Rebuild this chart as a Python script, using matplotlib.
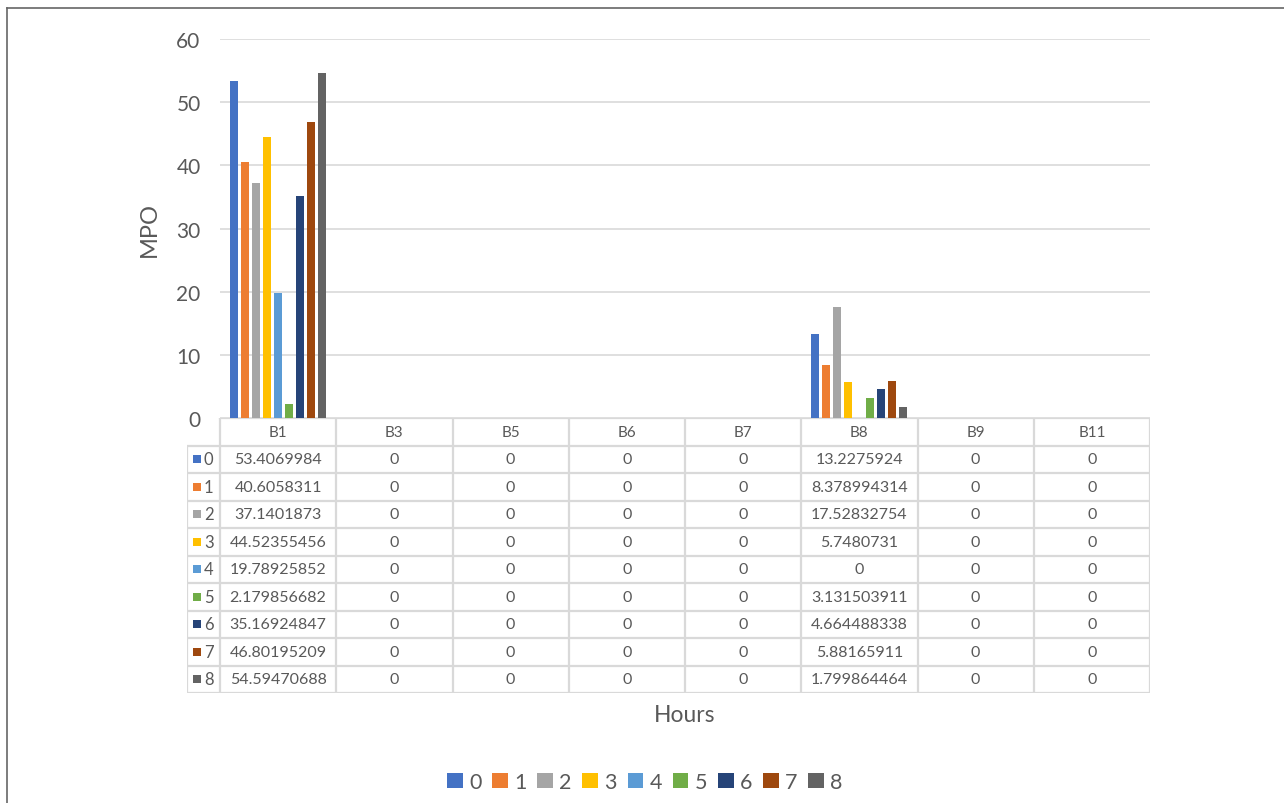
import matplotlib.pyplot as plt
from matplotlib.lines import Line2D
import numpy as np

plt.rcParams['font.family'] = ['Lato', 'DejaVu Sans']

# data
categories = ['B1', 'B3', 'B5', 'B6', 'B7', 'B8', 'B9', 'B11']
series_names = ['0', '1', '2', '3', '4', '5', '6', '7', '8']
s0 = [53.4069984, 0, 0, 0, 0, 13.2275924, 0, 0]
s1 = [40.6058311, 0, 0, 0, 0, 8.378994314, 0, 0]
s2 = [37.1401873, 0, 0, 0, 0, 17.52832754, 0, 0]
s3 = [44.52355456, 0, 0, 0, 0, 5.7480731, 0, 0]
s4 = [19.78925852, 0, 0, 0, 0, 0, 0, 0]
s5 = [2.179856682, 0, 0, 0, 0, 3.131503911, 0, 0]
s6 = [35.16924847, 0, 0, 0, 0, 4.664488338, 0, 0]
s7 = [46.80195209, 0, 0, 0, 0, 5.88165911, 0, 0]
s8 = [54.59470688, 0, 0, 0, 0, 1.799864464, 0, 0]
series = [s0, s1, s2, s3, s4, s5, s6, s7, s8]
colors = ['#4472C4', '#ED7D31', '#A5A5A5', '#FFC000', '#5B9BD5',
          '#70AD47', '#264478', '#9E480E', '#636363']
yticks = [0, 10, 20, 30, 40, 50, 60]

W, H = 1284, 804
txt = '#595959'
grid = '#D9D9D9'

fig = plt.figure(figsize=(W / 100, H / 100), dpi=100)

def fr(x0, y0, x1, y1):
    # pixel box -> figure fraction rect
    return [x0 / W, 1 - y1 / H, (x1 - x0) / W, (y1 - y0) / H]

# chart border (only top/left visible in the crop)
fig.add_artist(Line2D([7 / W, 7 / W], [1 - 9 / H, 0], color='#666666', lw=1.2))
fig.add_artist(Line2D([7 / W, 1], [1 - 9 / H, 1 - 9 / H], color='#666666', lw=1.2))

# bar plot area
ax = fig.add_axes(fr(220, 40, 1150, 419))
n = len(series)
pitch = 0.0946
bw = 0.069
x = np.arange(len(categories))
bars = []
for i, (vals, c) in enumerate(zip(series, colors)):
    off = (i - (n - 1) / 2) * pitch
    b = ax.bar(x + off, vals, width=bw, color=c, label=series_names[i], zorder=3)
    bars.append(b)
ax.set_xlim(-0.5, len(categories) - 0.5)
ax.set_ylim(0, 60)
ax.set_yticks(yticks)
ax.set_xticks([])
ax.yaxis.grid(True, color=grid, lw=1.2)
ax.set_axisbelow(True)
for s in ax.spines.values():
    s.set_visible(False)
ax.tick_params(axis='y', length=0, pad=14, labelsize=15, labelcolor=txt)
ax.set_ylabel('MPO', fontsize=17, color=txt, labelpad=12)

# data table under the plot
key_w = 33 / 116.25
tax = fig.add_axes(fr(187, 419, 1150, 694))
ncat = len(categories)
tax.set_xlim(-0.5 - key_w, ncat - 0.5)
tax.set_ylim(10, 0)
tax.axis('off')
lw = 1.6
for k in range(ncat + 1):
    tax.plot([k - 0.5, k - 0.5], [0, 10], color=grid, lw=lw, solid_capstyle='butt')
tax.plot([-0.5 - key_w] * 2, [1, 10], color=grid, lw=lw, solid_capstyle='butt')
tax.plot([-0.5, ncat - 0.5], [0, 0], color=grid, lw=lw)
for r in range(1, 11):
    tax.plot([-0.5 - key_w, ncat - 0.5], [r, r], color=grid, lw=lw)
for j, cat in enumerate(categories):
    tax.text(j, 0.5, cat, ha='center', va='center', fontsize=11, color=txt)
for i, vals in enumerate(series):
    yy = i + 1.5
    tax.scatter([-0.5 - key_w + 0.09], [yy], marker='s', s=36, color=colors[i], linewidths=0)
    tax.text(-0.5 - key_w + 0.145, yy, series_names[i], ha='left', va='center', fontsize=12, color=txt)
    for j, v in enumerate(vals):
        tax.text(j, yy, f'{v:.10g}', ha='center', va='center', fontsize=11.5, color=txt)

fig.text(685 / W, 1 - 716 / H, 'Hours', ha='center', va='center', fontsize=16.5, color=txt)

fig.legend(handles=[b[0] for b in bars], labels=series_names, loc='center',
           bbox_to_anchor=(645 / W, 1 - 783 / H), ncol=9, frameon=False,
           fontsize=15.5, labelcolor=txt, handlelength=0.72, handleheight=0.72,
           handletextpad=0.3, columnspacing=0.5)

fig.savefig('out.png', dpi=100)
